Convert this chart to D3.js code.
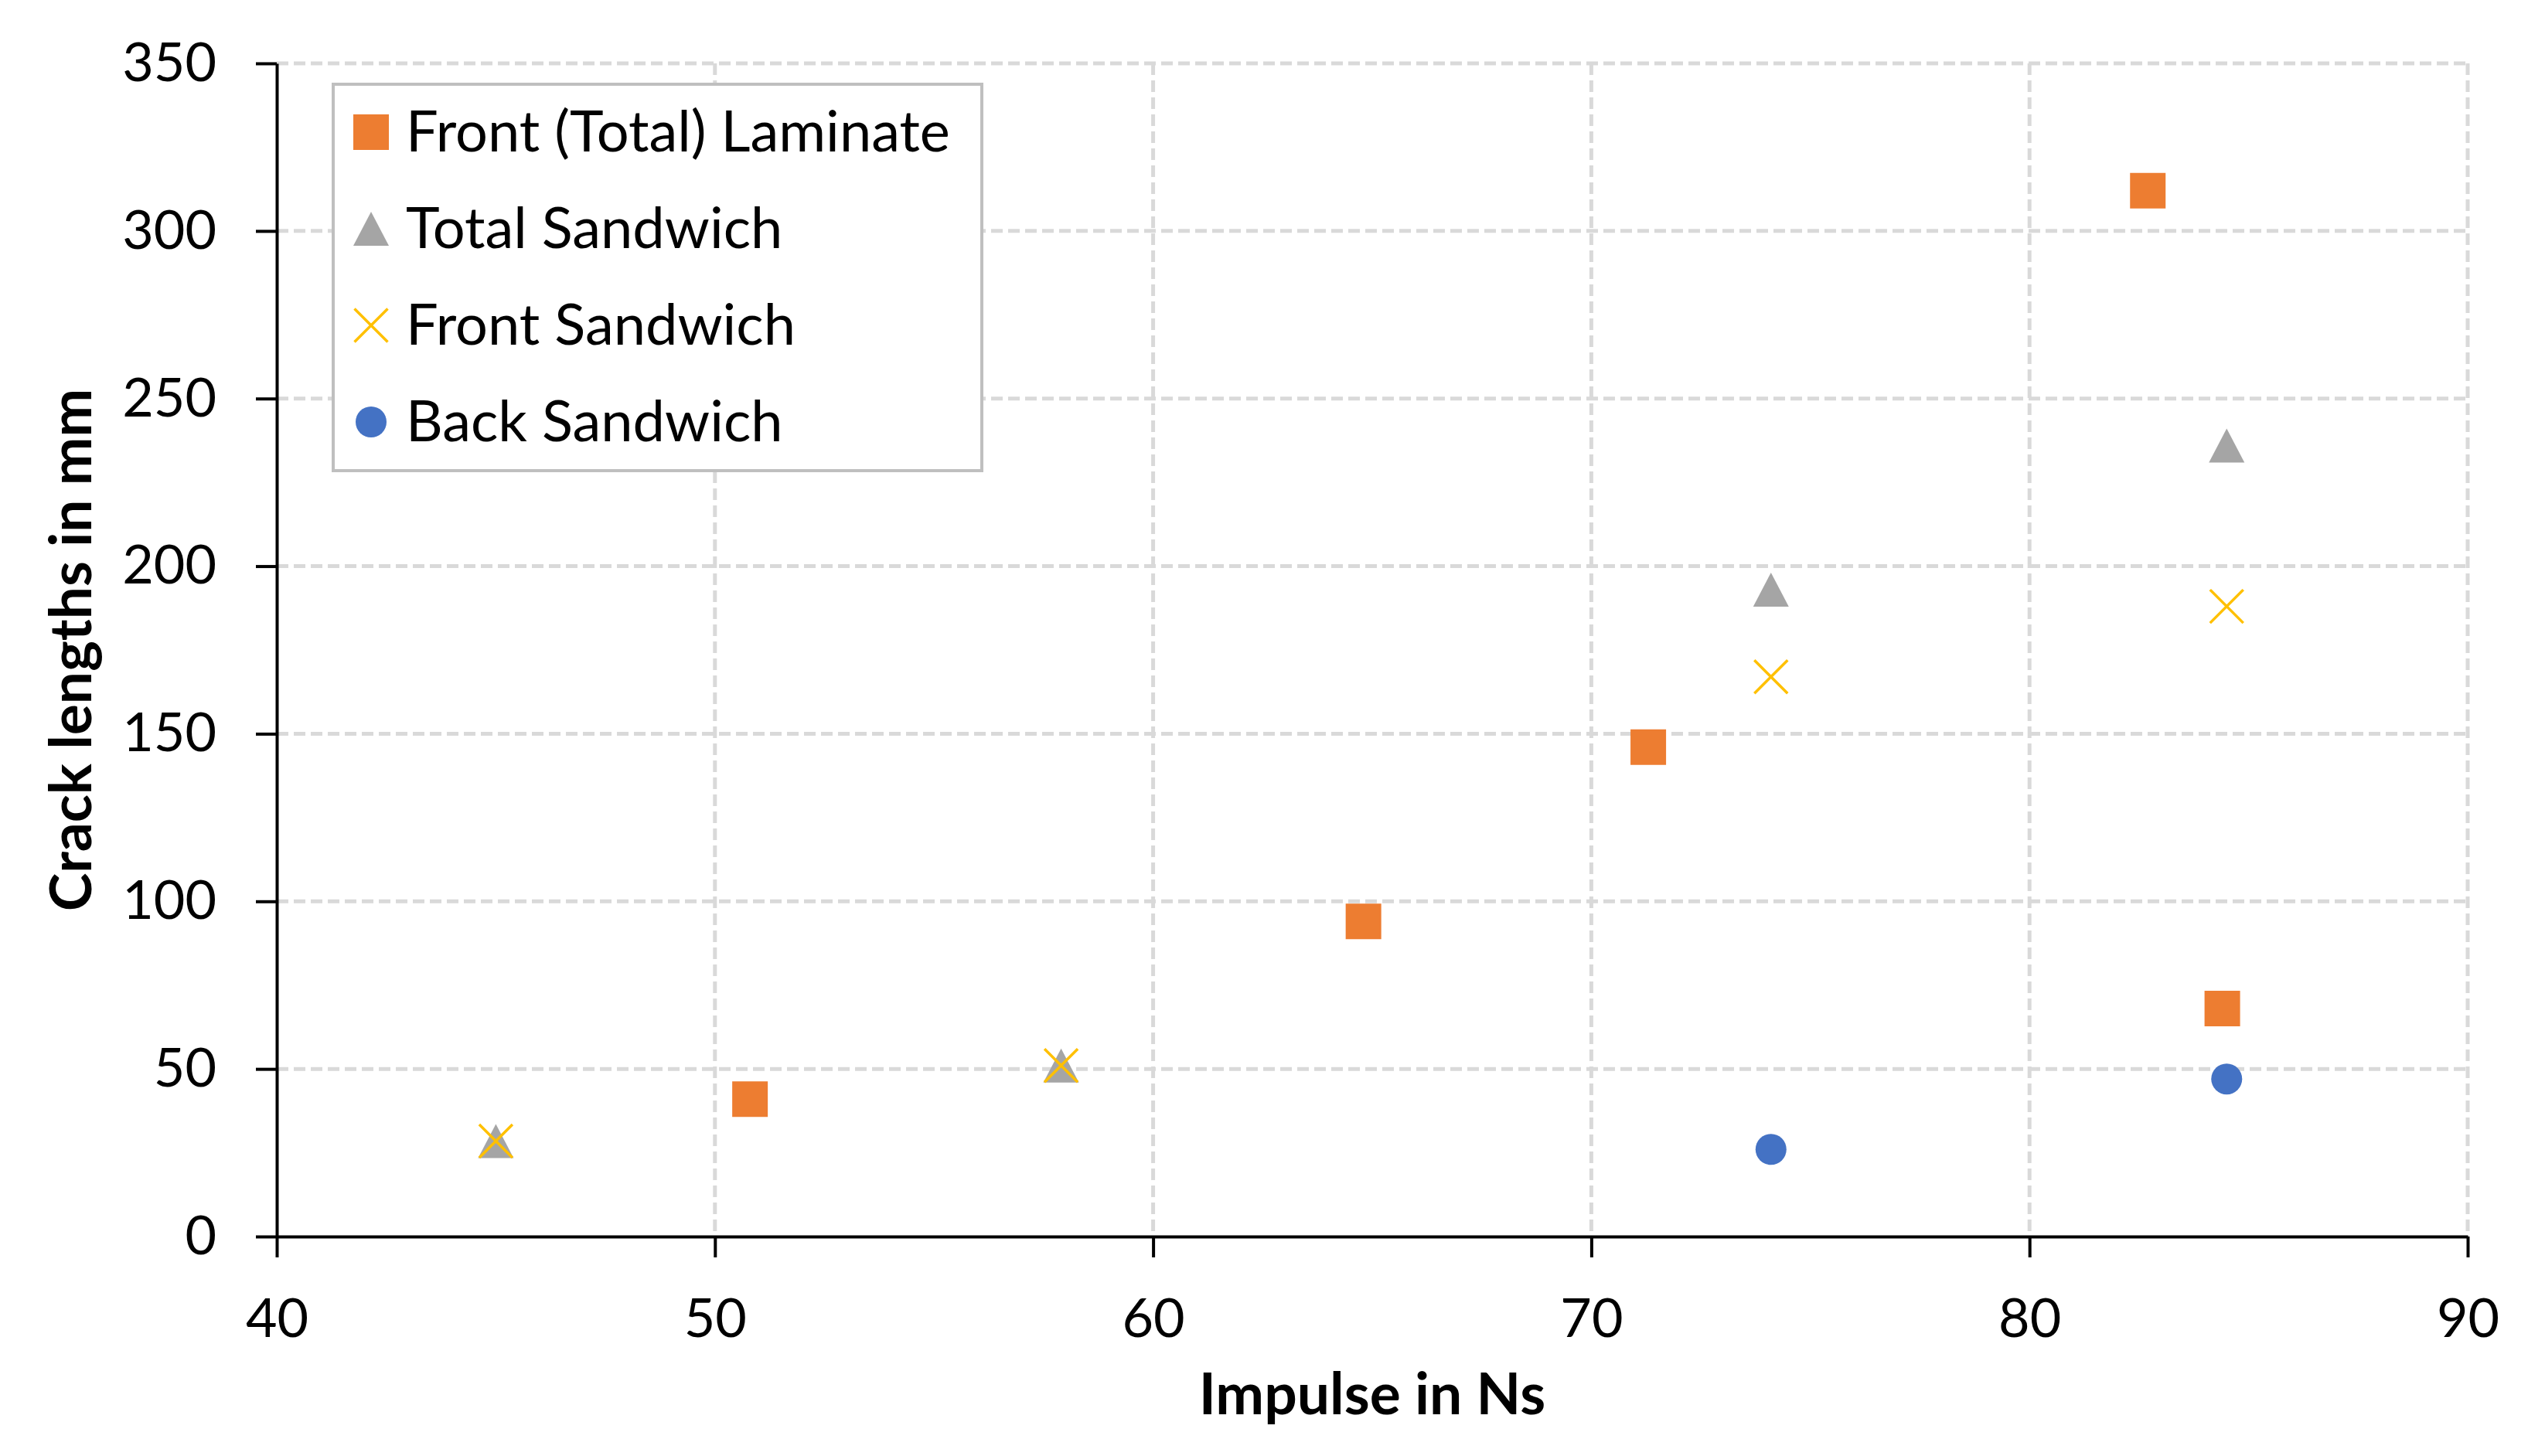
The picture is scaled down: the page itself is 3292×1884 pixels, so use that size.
<!DOCTYPE html>
<html>
<head>
<meta charset="utf-8">
<script src="https://cdn.jsdelivr.net/npm/d3@7"></script>
<style>
  body { margin: 0; background: #fff; }
  svg { display: block; font-family: Lato, "Open Sans", sans-serif; }
</style>
</head>
<body>
<svg id="chart"></svg>
<script>
// data
const seriesNames = ["Front (Total) Laminate", "Total Sandwich", "Front Sandwich", "Back Sandwich"];
const laminate = [[50.8, 41], [64.8, 94], [71.3, 146], [82.7, 312], [84.4, 68]];
const totalSandwich = [[45.0, 28.5], [57.9, 51], [74.1, 193], [84.5, 236]];
const frontSandwich = [[45.0, 28.5], [57.9, 51], [74.1, 167], [84.5, 188]];
const backSandwich = [[74.1, 26], [84.5, 47]];
const xTicks = [40, 50, 60, 70, 80, 90];
const yTicks = [0, 50, 100, 150, 200, 250, 300, 350];

const width = 3292;
const height = 1884;
const marginTop = 82;
const marginRight = 100;
const marginBottom = 284;
const marginLeft = 358;

const x = d3.scaleLinear().domain([40, 90]).range([marginLeft, width - marginRight]);
const y = d3.scaleLinear().domain([0, 350]).range([height - marginBottom, marginTop]);

const svg = d3.select("#chart")
  .attr("width", width)
  .attr("height", height)
  .attr("viewBox", [0, 0, width, height]);

// grid lines
const grid = svg.append("g")
  .attr("stroke", "#d9d9d9")
  .attr("stroke-width", 5)
  .attr("stroke-dasharray", "15,7");

grid.selectAll(".hgrid")
  .data(yTicks.filter(d => d > 0))
  .join("line")
    .attr("x1", x(40)).attr("x2", x(90))
    .attr("y1", d => y(d)).attr("y2", d => y(d));

grid.selectAll(".vgrid")
  .data(xTicks.filter(d => d > 40))
  .join("line")
    .attr("x1", d => x(d)).attr("x2", d => x(d))
    .attr("y1", y(350)).attr("y2", y(0));

// axes
svg.append("g")
  .attr("transform", `translate(0,${y(0)})`)
  .call(d3.axisBottom(x).tickValues(xTicks).tickSize(27).tickSizeOuter(0).tickPadding(53))
  .call(g => g.selectAll("line, path").attr("stroke", "#000").attr("stroke-width", 4))
  .call(g => g.selectAll("text").attr("font-size", 70).attr("font-family", "Lato").attr("fill", "#000"));

svg.append("g")
  .attr("transform", `translate(${x(40)},0)`)
  .call(d3.axisLeft(y).tickValues(yTicks).tickSize(27).tickSizeOuter(0).tickPadding(51))
  .call(g => g.selectAll("line, path").attr("stroke", "#000").attr("stroke-width", 4))
  .call(g => g.selectAll("text").attr("font-size", 70).attr("font-family", "Lato").attr("fill", "#000"));

// axis titles
svg.append("text")
  .attr("x", (x(40) + x(90)) / 2)
  .attr("y", 1830)
  .attr("text-anchor", "middle")
  .attr("font-size", 75)
  .attr("font-weight", "bold")
  .text("Impulse in Ns");

svg.append("text")
  .attr("transform", `translate(118,${(y(0) + y(350)) / 2}) rotate(-90)`)
  .attr("text-anchor", "middle")
  .attr("font-size", 75)
  .attr("font-weight", "bold")
  .text("Crack lengths in mm");

// marker shapes
const markers = {
  square: () => "M-23,-23H23V23H-23Z",
  triangle: () => "M0,-22L23,22H-23Z",
  cross: () => "M-21.5,-21.5L21.5,21.5M21.5,-21.5L-21.5,21.5",
  circle: () => "M20,0A20,20 0 1,1 -20,0A20,20 0 1,1 20,0Z"
};

const series = [
  { name: seriesNames[0], values: laminate, shape: "square", color: "#ED7D31" },
  { name: seriesNames[1], values: totalSandwich, shape: "triangle", color: "#A5A5A5" },
  { name: seriesNames[2], values: frontSandwich, shape: "cross", color: "#FFC000" },
  { name: seriesNames[3], values: backSandwich, shape: "circle", color: "#4472C4" }
];

function styleMarker(sel, s) {
  if (s.shape === "cross") {
    sel.attr("fill", "none").attr("stroke", s.color).attr("stroke-width", 3.5);
  } else {
    sel.attr("fill", s.color);
  }
}

series.forEach(s => {
  svg.append("g")
    .selectAll("path")
    .data(s.values)
    .join("path")
      .attr("transform", d => `translate(${x(d[0])},${y(d[1])})`)
      .attr("d", markers[s.shape])
      .call(styleMarker, s);
});

// legend
const legend = svg.append("g");
legend.append("rect")
  .attr("x", 431).attr("y", 109)
  .attr("width", 839).attr("height", 500)
  .attr("fill", "#fff")
  .attr("stroke", "#bfbfbf")
  .attr("stroke-width", 4);

series.forEach((s, i) => {
  const cy = 171 + i * 125;
  legend.append("path")
    .attr("transform", `translate(480,${cy})`)
    .attr("d", markers[s.shape]())
    .call(styleMarker, s);
  legend.append("text")
    .attr("x", 525)
    .attr("y", cy + 25)
    .attr("font-size", 74)
    .text(s.name);
});
</script>
</body>
</html>
